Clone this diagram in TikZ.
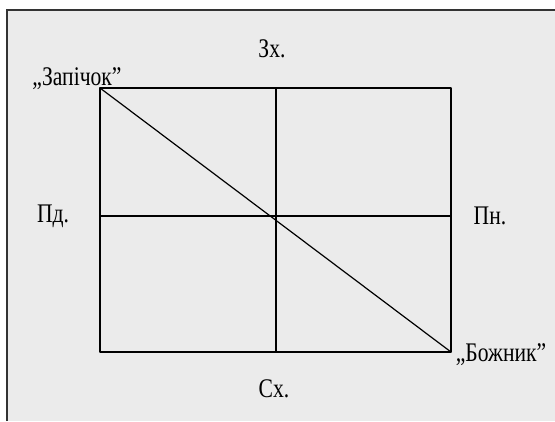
\documentclass[tikz,border=0pt]{standalone}
\usepackage{fontspec}
\setmainfont{Liberation Serif}
\usepackage{tkz-euclide}
\definecolor{sheetgray}{HTML}{EBEBEB}
\definecolor{framegray}{HTML}{333333}
\newcommand{\sidelabel}[1]{\scalebox{0.9}[1.12]{#1}}
\tikzset{side/.style={font=\fontsize{24}{26}\selectfont,inner sep=0pt}}

\begin{document}
\begin{tikzpicture}[x=1pt,y=1pt]
\useasboundingbox (0,0) rectangle (555,421);
\fill[sheetgray] (7,0) rectangle (555,411);
\draw[framegray,line width=2pt] (7,0) -- (7,411) -- (555,411);

\tkzSetUpLine[line width=1.2pt,color=black]

\tkzDefPoints{100/333/A,100/69/B,451/69/C,451/333/D}
\tkzDefPoints{276/333/M,276/69/N,100/205/P,451/205/Q}

\tkzDrawPolygon[line width=1.2pt,color=black](A,B,C,D)
\tkzDrawSegments[line width=1.2pt,color=black](M,N P,Q A,C)

\node[side] (zx) at (272,372) {\sidelabel{Зх.}};
\node[side] (sx) at (274,32) {\sidelabel{Сх.}};
\node[side] (pd) at (53,205) {\sidelabel{Пд.}};
\node[side] (pn) at (490,205) {\sidelabel{Пн.}};
\node[side] (zapichok) at (77,342) {\sidelabel{„Запічок”}};
\node[side] (bozhnyk) at (501,66) {\sidelabel{„Божник”}};

\end{tikzpicture}
\end{document}
